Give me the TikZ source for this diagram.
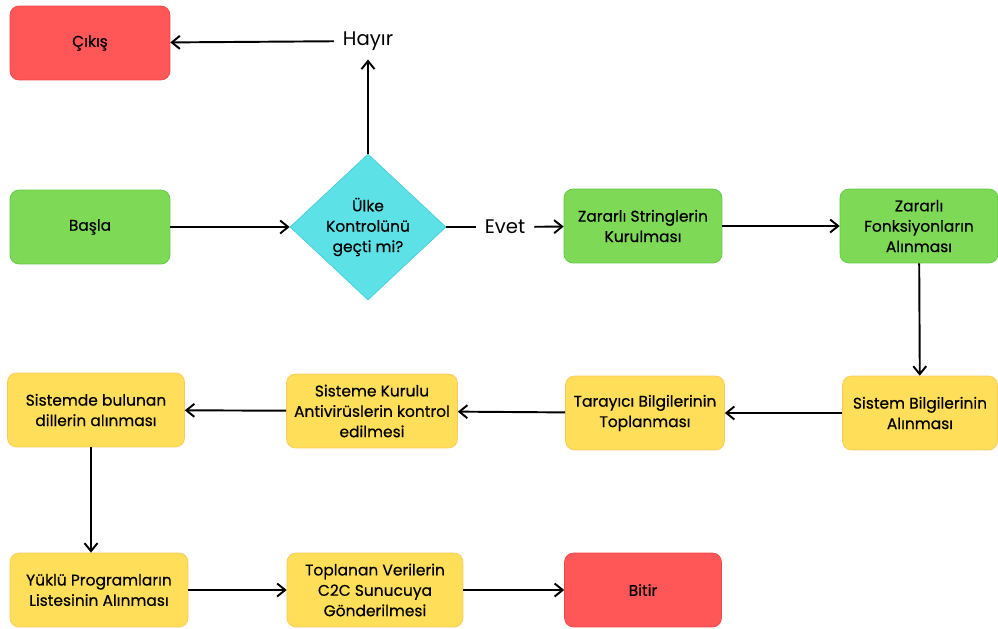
\documentclass[tikz,border=0pt]{standalone}
\usepackage{fontspec}
\setmainfont{Poppins}
\newfontfamily\boxfont[FakeBold=0.5]{Poppins}
\usepackage{xcolor}
\usepackage{tikz}
\usetikzlibrary{arrows.meta,shapes.geometric}
\definecolor{exitred}{RGB}{255,87,87}
\definecolor{exitborder}{RGB}{240,70,70}
\definecolor{stepgreen}{RGB}{126,217,87}
\definecolor{greenborder}{RGB}{96,200,70}
\definecolor{stepyellow}{RGB}{255,222,89}
\definecolor{yellowborder}{RGB}{250,200,90}
\definecolor{checkcyan}{RGB}{92,225,230}
\definecolor{cyanborder}{RGB}{70,205,215}

\begin{document}
\begin{tikzpicture}[
  x=0.02cm, y=-0.02cm,
  stepbox/.style={draw, rounded corners=0.18cm, minimum height=1.48cm, align=center, font=\boxfont\fontsize{8.8}{11.6}\selectfont, inner sep=2pt},
  endbox/.style={stepbox, fill=exitred, draw=exitborder},
  greenbox/.style={stepbox, fill=stepgreen, draw=greenborder},
  yellowbox/.style={stepbox, fill=stepyellow, draw=yellowborder},
  decision/.style={diamond, draw=cyanborder, fill=checkcyan, inner sep=0pt, minimum width=3.12cm, minimum height=2.92cm, align=center, font=\boxfont\fontsize{8.8}{11.6}\selectfont},
  answer/.style={font=\fontsize{11.2}{14}\selectfont, inner sep=5pt},
  flow/.style={-{Straight Barb[length=1.6mm,width=2.6mm]}, line width=1.1pt}
]
\useasboundingbox (0,0) rectangle (998,629);

% top row
\node[endbox, minimum width=3.2cm] (cikis) at (90,43) {Çıkış};
\node[answer] (hayir) at (368,41) {Hayır};

\node[greenbox, minimum width=3.2cm] (basla) at (90,227) {Başla};
\node[decision] (ulke) at (368,227) {Ülke\\Kontrolünü\\geçti mi?};
\node[answer] (evet) at (505,227) {Evet};
\node[greenbox, minimum width=3.16cm] (strings) at (643,226) {Zararlı Stringlerin\\Kurulması};
\node[greenbox, minimum width=3.16cm] (fonks) at (919,226) {Zararlı\\Fonksiyonların\\Alınması};

% middle row
\node[yellowbox, minimum width=3.1cm] (sistem) at (920,413) {Sistem Bilgilerinin\\Alınması};
\node[yellowbox, minimum width=3.18cm] (tarayici) at (645,413) {Tarayıcı Bilgilerinin\\Toplanması};
\node[yellowbox, minimum width=3.42cm] (antivirus) at (372,411) {Sisteme Kurulu\\Antivirüslerin kontrol\\edilmesi};
\node[yellowbox, minimum width=3.54cm] (diller) at (96,410) {Sistemde bulunan\\dillerin alınması};

% bottom row
\node[yellowbox, minimum width=3.56cm] (yuklu) at (99,590) {Yüklü Programların\\Listesinin Alınması};
\node[yellowbox, minimum width=3.52cm] (toplanan) at (375,590) {Toplanan Verilerin\\C2C Sunucuya\\Gönderilmesi};
\node[endbox, minimum width=3.14cm] (bitir) at (643,590) {Bitir};

\draw[flow] (basla) -- (ulke);
\draw[flow] (ulke.north) -- (hayir);
\draw[flow] (hayir) -- (cikis);
\draw[line width=1.1pt] (ulke.east) -- (evet);
\draw[flow] (evet) -- (strings);
\draw[flow] (strings) -- (fonks);
\draw[flow] (fonks) -- (sistem);
\draw[flow] (sistem) -- (tarayici);
\draw[flow] (tarayici) -- (antivirus);
\draw[flow] (antivirus) -- (diller);
\draw[flow] ([xshift=-0.1cm]diller.south) -- ([xshift=-0.1cm]diller.south |- yuklu.north);
\draw[flow] (yuklu) -- (toplanan);
\draw[flow] (toplanan) -- (bitir);
\end{tikzpicture}
\end{document}
